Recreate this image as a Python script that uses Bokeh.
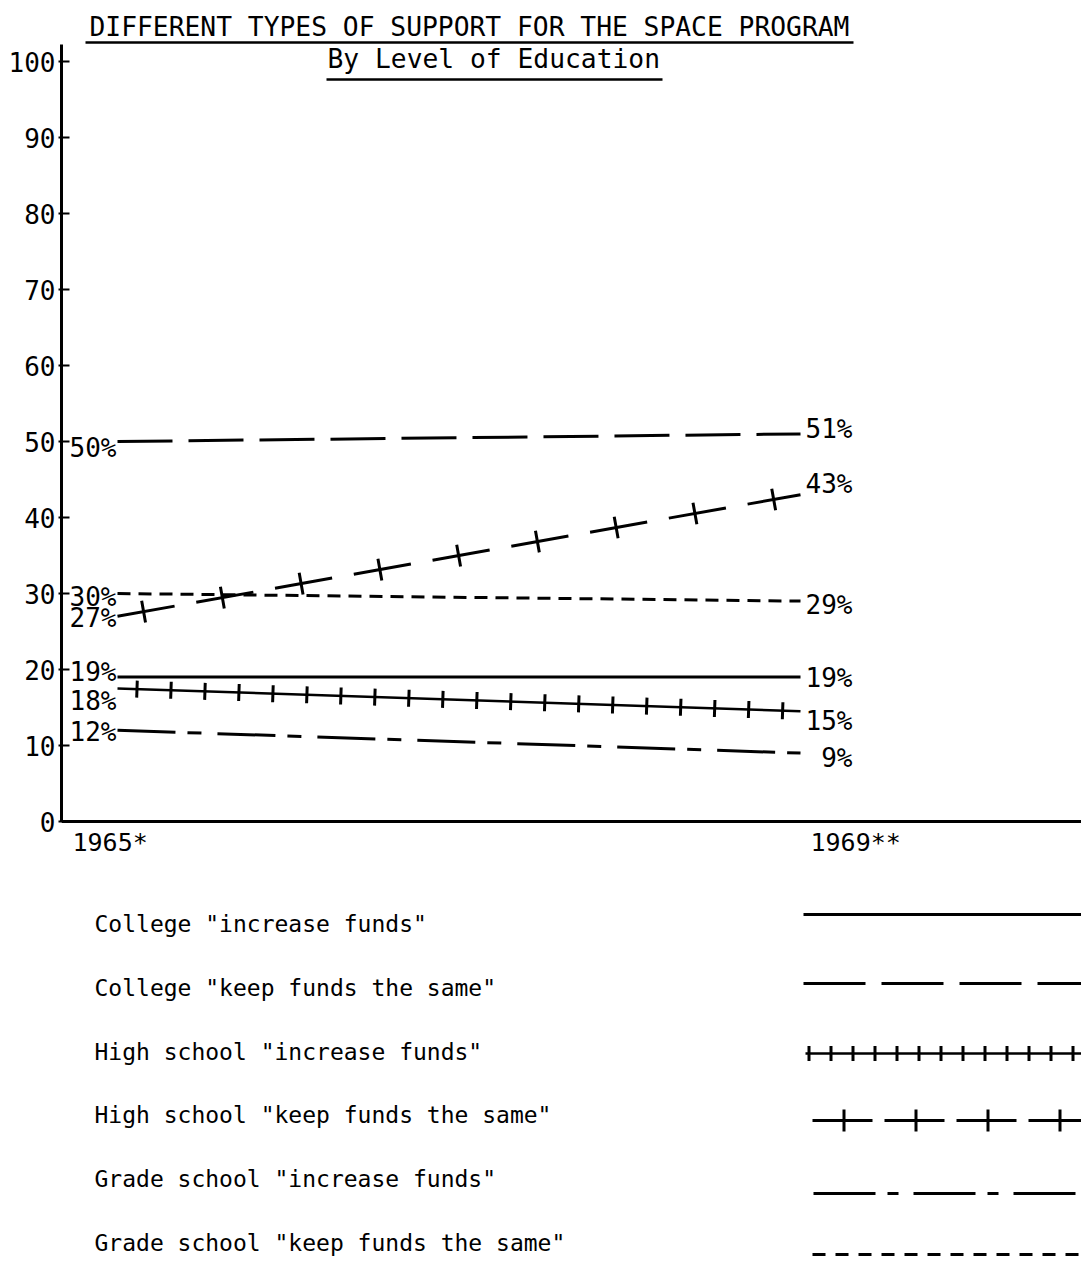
from bokeh.plotting import figure
from bokeh.models import Range1d, FixedTicker, ColumnDataSource
from bokeh.embed import file_html
from bokeh.resources import INLINE
from bokeh.core.properties import value

# ---------------- data ----------------
years = [1965, 1969]
series_names = [
    'College "increase funds"',
    'College "keep funds the same"',
    'High school "increase funds"',
    'High school "keep funds the same"',
    'Grade school "increase funds"',
    'Grade school "keep funds the same"',
]
college_increase = [19, 19]
college_keep = [50, 51]
high_school_increase = [17.5, 14.5]
high_school_keep = [27, 43]
grade_school_increase = [12, 9]
grade_school_keep = [30, 29]
labels_1965 = ["19%", "50%", "18%", "27%", "12%", "30%"]
labels_1969 = ["19%", "51%", "15%", "43%", "9%", "29%"]
y_ticks = [0, 10, 20, 30, 40, 50, 60, 70, 80, 90, 100]
x_tick_labels = ["1965*", "1969**"]
title_text = "DIFFERENT TYPES OF SUPPORT FOR THE SPACE PROGRAM"
subtitle_text = "By Level of Education"

all_series = [college_increase, college_keep, high_school_increase,
              high_school_keep, grade_school_increase, grade_school_keep]

# ---------------- layout helpers (page pixels -> data) ----------------
FONT = "DejaVu Sans Mono"
PX_PER_YEAR = 170.75
PX_PER_UNIT = 7.6
FRAME_LEFT_PX = 61
ZERO_PX = 821
FRAME_W = 1020
FRAME_H = 1256
X0 = 1965 - (117 - FRAME_LEFT_PX) / PX_PER_YEAR
X1 = X0 + FRAME_W / PX_PER_YEAR
Y1 = ZERO_PX / PX_PER_UNIT
Y0 = Y1 - FRAME_H / PX_PER_UNIT


def px2x(px):
    return X0 + (px - FRAME_LEFT_PX) / PX_PER_YEAR


def py2y(py):
    return (ZERO_PX - py) / PX_PER_UNIT


p = figure(frame_width=FRAME_W, frame_height=FRAME_H,
           x_range=Range1d(X0, X1), y_range=Range1d(Y0, Y1),
           min_border_left=FRAME_LEFT_PX, min_border_right=0,
           min_border_top=0, min_border_bottom=0,
           toolbar_location=None, output_backend="svg",
           background_fill_color="white", border_fill_color="white")
p.grid.visible = False
p.outline_line_color = None

# y axis
p.yaxis.ticker = FixedTicker(ticks=y_ticks)
p.yaxis.bounds = (0, 102.2)
p.yaxis.axis_line_width = 3
p.yaxis.axis_line_color = "black"
p.yaxis.major_tick_in = 8
p.yaxis.major_tick_out = 3
p.yaxis.major_tick_line_width = 2
p.yaxis.major_tick_line_color = "black"
p.yaxis.minor_tick_line_color = None
p.yaxis.major_label_text_font = FONT
p.yaxis.major_label_text_font_size = "26px"
p.yaxis.major_label_text_color = "black"
p.yaxis.major_label_standoff = 3

# x axis: drawn at y = 0 inside the frame
p.xaxis.fixed_location = 0
p.xaxis.ticker = FixedTicker(ticks=[])
p.xaxis.axis_line_width = 3
p.xaxis.axis_line_color = "black"
p.xaxis.major_tick_in = 0
p.xaxis.major_tick_out = 0
p.xaxis.minor_tick_line_color = None
p.xaxis.major_label_text_font_size = "0px"
p.text(x=years, y=[0, 0], text=x_tick_labels, text_font=value(FONT),
       text_font_size="25px", text_color="black", text_align="left",
       text_baseline="middle", x_offset=[-45, 10], y_offset=21)

# title & subtitle
p.text(x=[px2x(89)], y=[py2y(26)], text=[title_text], text_font=value(FONT),
       text_font_size="26.3px", text_color="black", text_baseline="middle")
p.segment(x0=[px2x(85)], y0=[py2y(42)], x1=[px2x(853)], y1=[py2y(42)],
          line_width=2.5, line_color="black")
p.text(x=[px2x(327)], y=[py2y(58)], text=[subtitle_text], text_font=value(FONT),
       text_font_size="26.3px", text_color="black", text_baseline="middle")
p.segment(x0=[px2x(326)], y0=[py2y(79)], x1=[px2x(662)], y1=[py2y(79)],
          line_width=2.5, line_color="black")

# series lines
K = "black"
p.line(years, college_increase, line_width=3, line_color=K)
p.line(years, college_keep, line_width=3, line_color=K, line_dash="55 16")
p.line(years, high_school_increase, line_width=2.5, line_color=K)
p.line(years, high_school_increase, line_width=17, line_color=K,
       line_dash="3 31", line_dash_offset=16)
p.line(years, high_school_keep, line_width=3, line_color=K, line_dash="58 22")
p.line(years, high_school_keep, line_width=22, line_color=K,
       line_dash="3 77", line_dash_offset=55)
p.line(years, grade_school_increase, line_width=3, line_color=K, line_dash="58 12 14 16")
p.line(years, grade_school_keep, line_width=3, line_color=K, line_dash="13 8")

# end labels
left_dy = [-5, 6, 12, 2, 2, 3]
right_dy = [1, -5, 10, -11, 5, 4]
left_src = ColumnDataSource(dict(x=[years[0]] * 6, y=[s[0] for s in all_series],
                                 t=labels_1965, dy=left_dy))
right_src = ColumnDataSource(dict(x=[years[1]] * 6, y=[s[1] for s in all_series],
                                  t=labels_1969, dy=right_dy))
p.text(x="x", y="y", text="t", source=left_src, text_font=value(FONT),
       text_font_size="26px", text_color="black", text_align="right",
       text_baseline="middle", x_offset=-1, y_offset="dy")
p.text(x="x", y="y", text="t", source=right_src, text_font=value(FONT),
       text_font_size="26px", text_color="black", text_align="right",
       text_baseline="middle", x_offset=52, y_offset="dy")

# ---------------- legend (below the chart) ----------------
legend_text_py = [923, 987, 1051, 1114, 1178, 1242]
p.text(x=[px2x(94)] * 6, y=[py2y(v) for v in legend_text_py], text=series_names,
       text_font=value(FONT), text_font_size="23px", text_color="black",
       text_align="left", text_baseline="middle")

xe = px2x(1100)


def sample(x_start_px, y_px, **kw):
    y = py2y(y_px)
    p.line([px2x(x_start_px), xe], [y, y], line_color=K, **kw)


sample(803, 914, line_width=3)
sample(803, 983, line_width=3, line_dash="62 16")
sample(805, 1053, line_width=2.5)
sample(805, 1053, line_width=15, line_dash="3 19", line_dash_offset=20)
sample(812, 1120, line_width=3, line_dash="60 12")
sample(812, 1120, line_width=22, line_dash="3 69", line_dash_offset=42)
sample(813, 1193, line_width=3, line_dash="62 12 11 15")
sample(812, 1254, line_width=3, line_dash="13 10")

open("out.html", "w").write(file_html(p, INLINE))
